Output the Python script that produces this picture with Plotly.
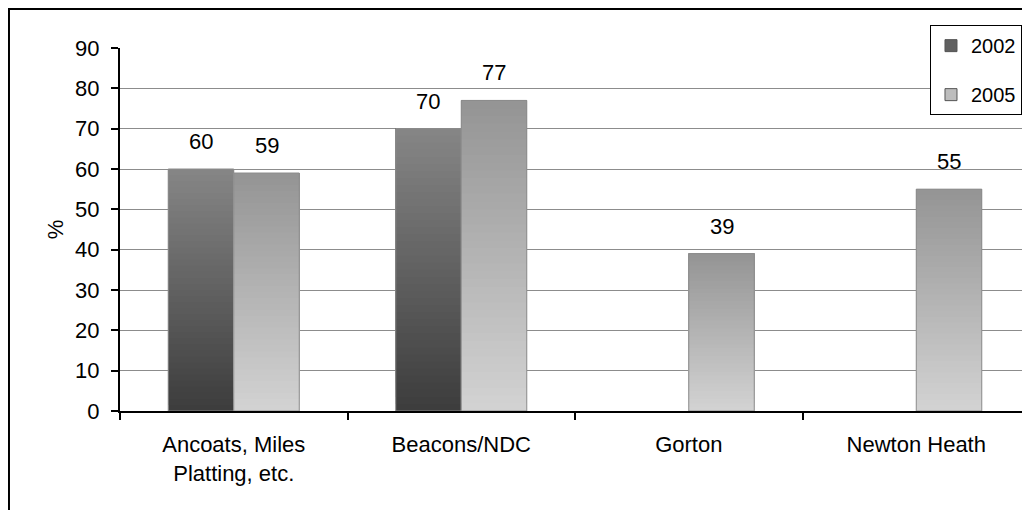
import plotly.graph_objects as go

categories = ["Ancoats, Miles<br>Platting, etc.", "Beacons/NDC", "Gorton", "Newton Heath"]
series_names = ["2002", "2005"]
values_2002 = [60, 70, None, None]
values_2005 = [59, 77, 39, 55]
y_ticks = [0, 10, 20, 30, 40, 50, 60, 70, 80, 90]

# gradient colours (bottom, top) per series
grad = {
    "2002": ((0x3c, 0x3c, 0x3c), (0x86, 0x86, 0x86)),
    "2005": ((0xd3, 0xd3, 0xd3), (0x94, 0x94, 0x94)),
}
legend_col = {"2002": "#606060", "2005": "#bdbdbd"}

N = 40
fig = go.Figure()
FONT = "Liberation Sans, Arial, sans-serif"

def mix(c0, c1, t):
    return "rgb(%d,%d,%d)" % tuple(round(a + (b - a) * t) for a, b in zip(c0, c1))

for name, vals in (("2002", values_2002), ("2005", values_2005)):
    c0, c1 = grad[name]
    for i in range(N):
        fig.add_trace(go.Bar(
            x=categories,
            y=[None if v is None else v * (N - i) / N for v in vals],
            base=[None if v is None else v * i / N for v in vals],
            offsetgroup=name,
            marker=dict(color=mix(c0, c1, (i + 0.5) / N), line=dict(width=0)),
            showlegend=False, hoverinfo="skip",
        ))
    # outline
    fig.add_trace(go.Bar(
        x=categories, y=vals, offsetgroup=name, name=name,
        legendgroup=name,
        marker=dict(color="rgba(0,0,0,0)", line=dict(color="#8c8c8c", width=1)),
        showlegend=False,
    ))
    # legend entry
    fig.add_trace(go.Bar(
        x=categories, y=[None] * len(categories), offsetgroup=name, name=name,
        legendgroup=name,
        marker=dict(color=legend_col[name], line=dict(color="#555555", width=1)),
        showlegend=True,
    ))

bar_px = 0.576 * 227.5 / 2
for name, vals, sh in (("2002", values_2002, -bar_px / 2), ("2005", values_2005, bar_px / 2)):
    for c, v in zip(categories, vals):
        if v is None:
            continue
        fig.add_annotation(x=c, y=v, text=str(v), showarrow=False, xshift=sh, yshift=13,
                           yanchor="bottom", font=dict(size=22, color="black", family=FONT))

fig.add_shape(type="rect", xref="paper", yref="paper", x0=-0.1220, x1=1.03, y0=-0.35, y1=1.1074,
              line=dict(color="black", width=2), fillcolor="rgba(0,0,0,0)", layer="above")

fig.update_layout(
    width=1030, height=510,
    margin=dict(l=112, r=8, t=40, b=107),
    paper_bgcolor="white", plot_bgcolor="white",
    barmode="group", bargap=0.424, bargroupgap=0,
    font=dict(family=FONT, size=22, color="black"),
    legend=dict(x=0.8901, xanchor="left", y=1.063, yanchor="top",
                bgcolor="white", bordercolor="black", borderwidth=1,
                font=dict(size=20), tracegroupgap=20, traceorder="grouped",
                itemwidth=30),
    showlegend=True,
)
fig.update_xaxes(type="category", categoryorder="array", categoryarray=categories,
                 range=[-0.5, 3.5], tickson="boundaries", ticks="outside", ticklen=7,
                 tickwidth=2, tickcolor="black", showline=True, linecolor="black", linewidth=2,
                 showgrid=False, tickfont=dict(size=22), ticklabelstandoff=13)
fig.update_yaxes(range=[0, 90], tickvals=y_ticks, ticks="outside", ticklen=7, tickwidth=2,
                 tickcolor="black", showline=True, linecolor="black", linewidth=2,
                 showgrid=True, gridcolor="#8c8c8c", gridwidth=1, zeroline=False,
                 tickfont=dict(size=22), ticklabelstandoff=7,
                 title=dict(text="%", font=dict(size=22), standoff=5))

fig.write_html("out.html")
